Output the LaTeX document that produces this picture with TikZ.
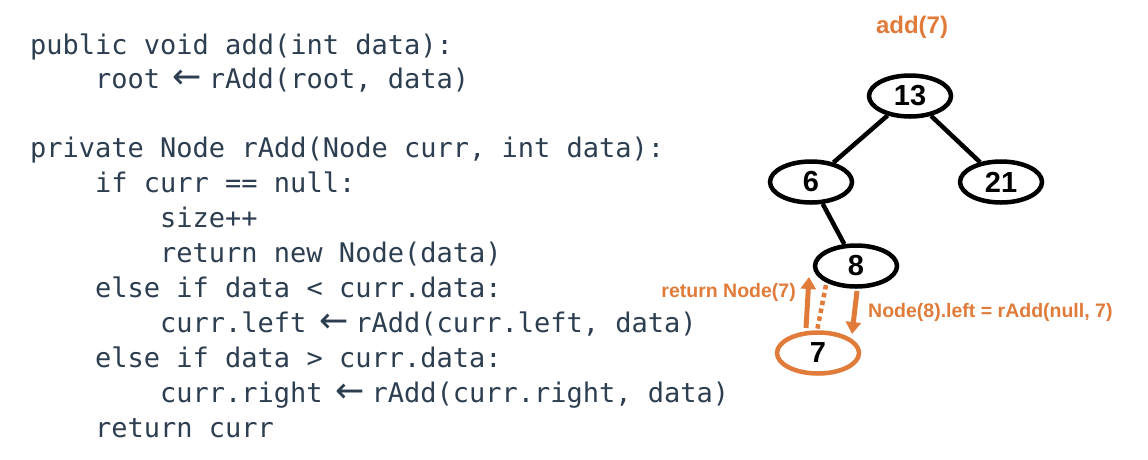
\documentclass[tikz,border=0pt]{standalone}
\usepackage{fontspec}
\setmainfont{Liberation Sans}
\setmonofont{DejaVu Sans Mono}
\newfontfamily\arrowfont{DejaVu Sans}
\usetikzlibrary{positioning,arrows.meta,shapes.geometric}

\definecolor{codegray}{HTML}{2C3E50}
\definecolor{callorange}{HTML}{E07B39}
\newcommand{\larr}{\makebox[0.602em]{\kern 6pt\arrowfont\fontsize{35}{35}\selectfont ←}}

\begin{document}
\begin{tikzpicture}[
    x=1pt, y=-1pt,
    code/.style={anchor=base west,inner sep=0pt,text=codegray,font=\ttfamily\fontsize{27}{30}\selectfont},
    bst/.style={draw,ellipse,line width=4.5pt,minimum width=82pt,minimum height=41pt,inner sep=0pt,font=\bfseries\fontsize{29}{32}\selectfont},
    newbst/.style={bst,draw=callorange},
    edge/.style={line width=4.5pt},
    call/.style={text=callorange,font=\bfseries\fontsize{19.5}{22}\selectfont,inner sep=0pt},
    flow/.style={draw=callorange,line width=5pt,-{Triangle[length=12pt,width=15pt]}}
]
\useasboundingbox (0,0) rectangle (1148,459);

% code
\node[code] (l1)  at (30,54)   {public void add(int data):};
\node[code] (l2)  at (95,88)   {root \larr{} rAdd(root, data)};
\node[code] (l3)  at (30,157)  {private Node rAdd(Node curr, int data):};
\node[code] (l4)  at (95,192)  {if curr == null:};
\node[code] (l5)  at (160,227) {size++};
\node[code] (l6)  at (160,262) {return new Node(data)};
\node[code] (l7)  at (95,297)  {else if data < curr.data:};
\node[code] (l8)  at (160,332) {curr.left \larr{} rAdd(curr.left, data)};
\node[code] (l9)  at (95,367)  {else if data > curr.data:};
\node[code] (l10) at (160,402) {curr.right \larr{} rAdd(curr.right, data)};
\node[code] (l11) at (95,437)  {return curr};

% tree
\node[call,font=\bfseries\fontsize{24}{28}\selectfont] (title) at (912,27) {add(7)};
\node[bst] (n13) at (910,96)  {13};
\node[bst] (n6)  at (811,182) {6};
\node[bst] (n21) at (1001,182) {21};
\node[bst] (n8)  at (856,266) {8};
\node[newbst] (n7) at (818,353) {7};

\draw[edge] (n13) -- (n6);
\draw[edge] (n13) -- (n21);
\draw[edge] (n6) -- (n8);

% recursion
\coordinate (upS) at (806,328);
\coordinate (upE) at (809,277);
\coordinate (dnS) at (857,291);
\coordinate (dnE) at (852,334);
\coordinate (dotS) at (826,285);
\coordinate (dotE) at (817,331);
\draw[draw=callorange,line width=4.5pt,dash pattern=on 4.5pt off 3.5pt] (dotS) -- (dotE);
\draw[flow] (upS) -- (upE);
\draw[flow] (dnS) -- (dnE);
\node[call,anchor=east] (ret) at (796,292) {return Node(7)};
\node[call,anchor=west] (rec) at (868,312) {Node(8).left = rAdd(null, 7)};
\end{tikzpicture}
\end{document}
